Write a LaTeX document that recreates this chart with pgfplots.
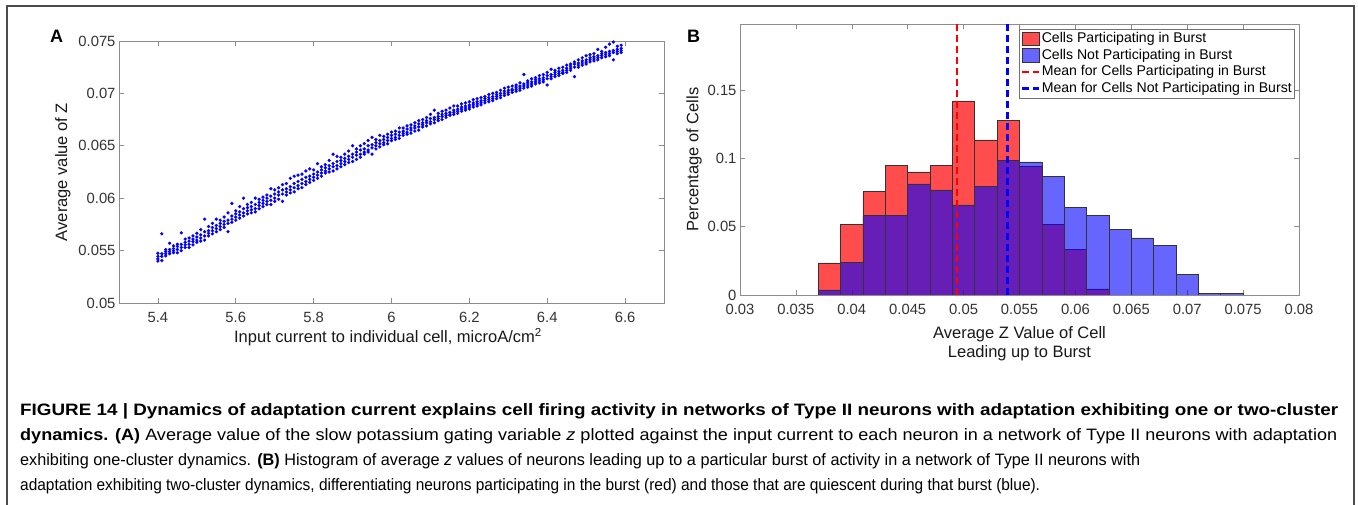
\documentclass[border=0pt]{standalone}
\usepackage{pgfplots}
\pgfplotsset{compat=1.18}
\usepackage{pgfplotstable}
\usepackage{graphicx}
\usepackage{fontspec}
\setmainfont{Liberation Sans}
\definecolor{mred}{rgb}{1,0,0}
\definecolor{mblue}{rgb}{0,0,1}

\pgfplotstableread{
x a b c d
5.40 .05400 .05420 .05445 .05475
5.41 .05405 .05445 .05470 .05660
5.42 .05450 .05470 .05490 .05510
5.43 .05470 .05490 .05510 .05570
5.44 .05480 .05500 .05520 .05545
5.45 .05480 .05510 .05540 .05560
5.46 .05500 .05530 .05560 .05670
5.47 .05530 .05555 .05580 .05610
5.48 .05530 .05560 .05590 .05620
5.49 .05555 .05585 .05610 .05640
5.50 .05580 .05600 .05630 .05665
5.51 .05590 .05620 .05650 .05700
5.52 .05600 .05640 .05680 .05800
5.53 .05640 .05665 .05690 .05730
5.54 .05660 .05690 .05720 .05760
5.55 .05680 .05710 .05740 .05800
5.56 .05700 .05730 .05760 .05790
5.57 .05720 .05750 .05780 .05820
5.58 .05680 .05760 .05790 .05860
5.59 .05770 .05800 .05830 .05950
5.60 .05790 .05820 .05850 .05880
5.61 .05810 .05840 .05870 .05920
5.62 .05830 .05860 .05900 .06000
5.63 .05850 .05880 .05910 .05940
5.64 .05860 .05890 .05920 .05960
5.65 .05870 .05900 .05940 .06000
5.66 .05900 .05930 .05960 .05990
5.67 .05920 .05950 .05980 .06010
5.68 .05940 .05970 .06000 .06030
5.69 .05940 .05980 .06020 .06090
5.70 .05970 .06000 .06040 .06080
5.71 .05990 .06030 .06060 .06100
5.72 .05970 .06040 .06080 .06130
5.73 .06030 .06060 .06090 .06140
5.74 .06050 .06080 .06110 .06190
5.75 .06060 .06100 .06140 .06210
5.76 .06090 .06120 .06160 .06220
5.77 .06100 .06140 .06180 .06230
5.78 .06130 .06160 .06200 .06260
5.79 .06150 .06180 .06210 .06280
5.80 .06170 .06200 .06230 .06270
5.81 .06190 .06220 .06250 .06330
5.82 .06210 .06240 .06270 .06300
5.83 .06240 .06260 .06290 .06320
5.84 .06250 .06280 .06310 .06360
5.85 .06260 .06300 .06330 .06420
5.86 .06280 .06310 .06350 .06400
5.87 .06300 .06330 .06360 .06390
5.88 .06320 .06350 .06380 .06420
5.89 .06340 .06370 .06400 .06450
5.90 .06350 .06390 .06420 .06500
5.91 .06370 .06410 .06440 .06470
5.92 .06390 .06420 .06460 .06500
5.93 .06420 .06440 .06470 .06520
5.94 .06440 .06460 .06500 .06550
5.95 .06420 .06480 .06510 .06580
5.96 .06470 .06500 .06530 .06560
5.97 .06490 .06520 .06550 .06600
5.98 .06510 .06530 .06560 .06590
5.99 .06520 .06550 .06580 .06610
6.00 .06550 .06570 .06600 .06630
6.01 .06560 .06580 .06610 .06640
6.02 .06570 .06600 .06630 .06670
6.03 .06600 .06620 .06640 .06670
6.04 .06610 .06630 .06660 .06690
6.05 .06620 .06650 .06670 .06700
6.06 .06640 .06670 .06690 .06720
6.07 .06650 .06680 .06710 .06740
6.08 .06680 .06700 .06720 .06750
6.09 .06690 .06720 .06740 .06770
6.10 .06710 .06730 .06760 .06800
6.11 .06720 .06750 .06770 .06840
6.12 .06740 .06760 .06780 .06810
6.13 .06750 .06780 .06800 .06830
6.14 .06770 .06790 .06810 .06840
6.15 .06790 .06800 .06820 .06860
6.16 .06800 .06820 .06840 .06880
6.17 .06810 .06830 .06850 .06880
6.18 .06830 .06850 .06870 .06900
6.19 .06840 .06860 .06880 .06910
6.20 .06850 .06870 .06890 .06920
6.21 .06870 .06890 .06910 .06940
6.22 .06880 .06900 .06920 .06950
6.23 .06890 .06910 .06930 .06960
6.24 .06910 .06930 .06950 .06970
6.25 .06920 .06940 .06960 .06990
6.26 .06930 .06950 .06970 .07000
6.27 .06950 .06970 .06990 .07010
6.28 .06960 .06980 .07000 .07030
6.29 .06980 .07000 .07020 .07050
6.30 .06990 .07010 .07030 .07060
6.31 .07010 .07030 .07040 .07070
6.32 .07020 .07040 .07060 .07080
6.33 .07030 .07050 .07070 .07100
6.34 .07050 .07070 .07090 .07180
6.35 .07060 .07080 .07100 .07120
6.36 .07070 .07090 .07110 .07140
6.37 .07090 .07110 .07130 .07150
6.38 .07100 .07120 .07140 .07170
6.39 .07110 .07130 .07150 .07180
6.40 .07080 .07140 .07170 .07200
6.41 .07140 .07160 .07180 .07230
6.42 .07160 .07180 .07200 .07220
6.43 .07170 .07190 .07210 .07240
6.44 .07190 .07200 .07220 .07250
6.45 .07200 .07220 .07240 .07270
6.46 .07220 .07240 .07260 .07280
6.47 .07160 .07250 .07280 .07300
6.48 .07250 .07270 .07290 .07320
6.49 .07270 .07290 .07310 .07340
6.50 .07280 .07300 .07320 .07360
6.51 .07300 .07320 .07340 .07370
6.52 .07310 .07330 .07350 .07380
6.53 .07320 .07340 .07360 .07420
6.54 .07340 .07360 .07380 .07400
6.55 .07350 .07370 .07390 .07440
6.56 .07360 .07380 .07400 .07470
6.57 .07320 .07390 .07410 .07490
6.58 .07380 .07400 .07420 .07450
6.59 .07390 .07410 .07430 .07460
}\scatterdata

\pgfplotstableread{
x y
0.037 0.0235
0.039 0.0520
0.041 0.0757
0.043 0.0948
0.045 0.0902
0.047 0.0948
0.049 0.1422
0.051 0.1136
0.053 0.1278
0.055 0.0943
0.057 0.0518
0.059 0.0332
0.061 0.0044
0.063 0
}\reddata

\pgfplotstableread{
x y
0.037 0.0037
0.039 0.0239
0.041 0.0581
0.043 0.0581
0.045 0.0814
0.047 0.0770
0.049 0.0660
0.051 0.0796
0.053 0.0987
0.055 0.0975
0.057 0.0870
0.059 0.0643
0.061 0.0581
0.063 0.0481
0.065 0.0418
0.067 0.0366
0.069 0.0151
0.071 0.0012
0.073 0.0012
0.075 0
}\bluedata

\pgfplotstableread{
x y
0.04941 0
0.04941 0.1985
}\redmean

\pgfplotstableread{
x y
0.05392 0
0.05392 0.1985
}\bluemean

\pgfplotsset{
  myax/.style={
    scale only axis,
    axis line style={black!45, line width=0.7pt},
    tick style={black!45, line width=0.6pt},
    tick align=inside,
    major tick length=5pt,
    minor tick num=0,
    ticklabel style={font=\fontsize{14.8}{16}\selectfont, text=black!80},
    label style={font=\fontsize{16.5}{19}\selectfont, text=black!90},
    /pgf/number format/assume math mode=true,
    scaled ticks=false,
  },
}

\newcommand\capfont{\fontsize{16.5}{20}\selectfont}
\newsavebox\capboxA
\newsavebox\capboxB
\newsavebox\capboxC
\newsavebox\capboxD
\newlength\capwA
\newlength\capwB
\newlength\capwC
\newlength\capwD

\begin{document}
\sbox\capboxA{\capfont\bfseries FIGURE 14 | Dynamics of adaptation current explains cell firing activity in networks of Type II neurons with adaptation exhibiting one or two-cluster}%
\sbox\capboxB{\capfont\textbf{dynamics. (A)} Average value of the slow potassium gating variable \textit{z} plotted against the input current to each neuron in a network of Type II neurons with adaptation}%
\sbox\capboxC{\capfont exhibiting one-cluster dynamics. \textbf{(B)} Histogram of average \textit{z} values of neurons leading up to a particular burst of activity in a network of Type II neurons with}%
\sbox\capboxD{\capfont adaptation exhibiting two-cluster dynamics, differentiating neurons participating in the burst (red) and those that are quiescent during that burst (blue).}%
\setlength\capwA{\wd\capboxA}%
\setlength\capwB{\wd\capboxB}%
\setlength\capwC{\wd\capboxC}%
\setlength\capwD{\wd\capboxD}%
\pgfmathsetmacro\capsxA{1318/\capwA}%
\pgfmathsetmacro\capsxB{1317/\capwB}%
\pgfmathsetmacro\capsxC{1120/\capwC}%
\pgfmathsetmacro\capsxD{1020/\capwD}%
\begin{tikzpicture}
\useasboundingbox (0pt,0pt) rectangle (1358pt,505pt);
\fill[white] (0pt,0pt) rectangle (1358pt,505pt);
\draw[black!70, line width=1.3pt] (7pt,0pt) -- (7pt,499pt) -- (1354pt,499pt) -- (1354pt,0pt);

% Panel A
\begin{axis}[myax,
  at={(119pt,202pt)}, anchor=south west,
  width=545pt, height=262pt,
  xmin=5.3, xmax=6.7, ymin=0.05, ymax=0.075,
  xtick={5.4,5.6,5.8,6,6.2,6.4,6.6},
  xticklabels={5.4,5.6,5.8,6,6.2,6.4,6.6},
  ytick={0.05,0.055,0.06,0.065,0.07,0.075},
  yticklabels={0.05,0.055,0.06,0.065,0.07,0.075},
  xticklabel style={yshift=-5.5pt},
  xlabel={Input current to individual cell, microA/cm\textsuperscript{2}},
  ylabel={Average value of Z},
  xlabel style={at={(axis description cs:0.4936,-0.13)}, anchor=center},
  ylabel style={at={(axis description cs:-0.1028,0.5)}, anchor=center, rotate=0},
]
\addplot[only marks, mark=*, mark size=1.45pt, color=mblue, mark options={draw=none, fill=mblue}] table[x=x, y=a] {\scatterdata};
\addplot[only marks, mark=*, mark size=1.45pt, color=mblue, mark options={draw=none, fill=mblue}] table[x=x, y=b] {\scatterdata};
\addplot[only marks, mark=*, mark size=1.45pt, color=mblue, mark options={draw=none, fill=mblue}] table[x=x, y=c] {\scatterdata};
\addplot[only marks, mark=*, mark size=1.45pt, color=mblue, mark options={draw=none, fill=mblue}] table[x=x, y=d] {\scatterdata};
\end{axis}

% Panel B
\begin{axis}[myax,
  at={(740pt,210pt)}, anchor=south west,
  width=559pt, height=271pt,
  xmin=0.03, xmax=0.08, ymin=0, ymax=0.1985,
  xtick={0.03,0.035,0.04,0.045,0.05,0.055,0.06,0.065,0.07,0.075,0.08},
  xticklabels={0.03,0.035,0.04,0.045,0.05,0.055,0.06,0.065,0.07,0.075,0.08},
  ytick={0,0.05,0.1,0.15},
  yticklabels={0,0.05,0.1,0.15},
  xticklabel style={yshift=-6pt},
  xlabel={Average Z Value of Cell\\Leading up to Burst},
  ylabel={Percentage of Cells},
  xlabel style={at={(axis description cs:0.5,-0.18)}, anchor=center, align=center},
  ylabel style={at={(axis description cs:-0.0823,0.5)}, anchor=center},
  legend style={at={(0.991,0.9815)}, anchor=north east, draw=black!55, fill=white,
    font=\fontsize{14.1}{15}\selectfont, inner sep=1.5pt, row sep=0pt,
    nodes={inner sep=0.5pt, text height=11.5pt, text depth=4pt},
    /tikz/every odd column/.append style={column sep=1pt}},
  legend cell align=left,
]
\addplot[ybar interval, fill=mred, fill opacity=0.7, draw=black!80, line width=0.6pt, forget plot] table[x=x, y=y] {\reddata};
\addplot[ybar interval, fill=mblue, fill opacity=0.6, draw=black!80, line width=0.6pt, forget plot] table[x=x, y=y] {\bluedata};
\addplot[color=mred, mark=none, line width=2.3pt, dash pattern=on 7pt off 4pt, forget plot] table[x=x, y=y] {\redmean};
\addplot[color=mblue, mark=none, line width=2.3pt, dash pattern=on 7pt off 4pt, forget plot] table[x=x, y=y] {\bluemean};
\addlegendimage{legend image code/.code={\draw[fill=mred, fill opacity=0.7, draw=black!80, line width=0.6pt] (0pt,-6.5pt) rectangle (17pt,7pt);}}
\addlegendentry{Cells Participating in Burst}
\addlegendimage{legend image code/.code={\draw[fill=mblue, fill opacity=0.6, draw=black!80, line width=0.6pt] (0pt,-6.5pt) rectangle (17pt,7pt);}}
\addlegendentry{Cells Not Participating in Burst}
\addlegendimage{legend image code/.code={\draw[color=mred, line width=2.3pt, dash pattern=on 7pt off 4pt] (0pt,0pt) -- (17pt,0pt);}}
\addlegendentry{Mean for Cells Participating in Burst}
\addlegendimage{legend image code/.code={\draw[color=mblue, line width=2.3pt, dash pattern=on 7pt off 4pt] (0pt,0pt) -- (17pt,0pt);}}
\addlegendentry{Mean for Cells Not Participating in Burst}
\end{axis}

% Panel letters
\node[font=\fontsize{18}{20}\selectfont\bfseries, anchor=center] at (56.5pt,468.5pt) {A};
\node[font=\fontsize{18}{20}\selectfont\bfseries, anchor=center] at (693.5pt,468.5pt) {B};

% Caption
\node[anchor=base west, inner sep=0pt, text=black!90] at (20pt,89pt) {\scalebox{\capsxA}[1]{\usebox\capboxA}};
\node[anchor=base west, inner sep=0pt, text=black!80] at (20pt,64pt) {\scalebox{\capsxB}[1]{\usebox\capboxB}};
\node[anchor=base west, inner sep=0pt, text=black!80] at (20pt,39pt) {\scalebox{\capsxC}[1]{\usebox\capboxC}};
\node[anchor=base west, inner sep=0pt, text=black!80] at (20pt,14pt) {\scalebox{\capsxD}[1]{\usebox\capboxD}};
\end{tikzpicture}
\end{document}
